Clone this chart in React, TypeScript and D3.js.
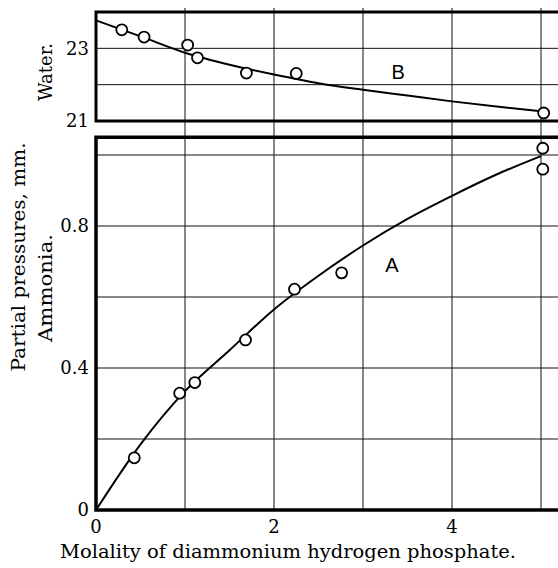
import React from 'react';
import * as d3 from 'd3';

// Smoothed curves
const molality = [0, 0.5, 1, 1.5, 2, 2.5, 3, 3.5, 4, 4.5, 5];
const ammoniaCurve = [0, 0.185, 0.335, 0.45, 0.565, 0.66, 0.745, 0.82, 0.885, 0.945, 0.997];
const waterCurve = [23.77, 23.33, 22.88, 22.55, 22.28, 22.04, 21.86, 21.7, 21.54, 21.4, 21.27];

// Observed points
const ammoniaObsX = [0.43, 0.94, 1.11, 1.68, 2.23, 2.76, 5.02, 5.02];
const ammoniaObsY = [0.147, 0.329, 0.359, 0.479, 0.622, 0.668, 1.019, 0.96];
const waterObsX = [0.29, 0.54, 1.03, 1.14, 1.69, 2.25, 5.03];
const waterObsY = [23.51, 23.31, 23.09, 22.74, 22.32, 22.31, 21.22];

// Ticks
const xGrid = [1, 2, 3, 4, 5];
const xTickLabels = [0, 2, 4];
const waterGrid = [22, 23];
const waterTickLabels = [23, 21];
const ammoniaGrid = [0.2, 0.4, 0.6, 0.8, 1.0];
const ammoniaTickLabels = [0.8, 0.4, 0];

const W = 558;
const H = 568;
const serif = "'DejaVu Serif', 'Liberation Serif', serif";
const sans = "'Liberation Sans', 'DejaVu Sans', sans-serif";

export default function App() {
  const x = d3.scaleLinear().domain([0, 5]).range([96, 541]);
  const yW = d3.scaleLinear().domain([21, 24]).range([121, 12]);
  const yA = d3.scaleLinear().domain([0, 1]).range([510, 155]);
  const right = W + 5;

  const lineW = d3
    .line<number>()
    .x((_, i) => x(molality[i]))
    .y((d) => yW(d))
    .curve(d3.curveMonotoneX);
  const lineA = d3
    .line<number>()
    .x((_, i) => x(molality[i]))
    .y((d) => yA(d))
    .curve(d3.curveMonotoneX);

  return (
    <svg
      width={W}
      height={H}
      style={{ position: 'absolute', left: 0, top: 0, background: '#fff' }}
    >
      <rect width={W} height={H} fill="#fff" />

      {/* vertical grid, running through both panels */}
      {xGrid.map((v) => (
        <line key={'vx' + v} x1={x(v)} x2={x(v)} y1={8} y2={yA(0)} stroke="#111" strokeWidth={1} />
      ))}

      {/* water panel */}
      {waterGrid.map((v) => (
        <line key={'wg' + v} x1={x(0)} x2={right} y1={yW(v)} y2={yW(v)} stroke="#111" strokeWidth={1} />
      ))}
      <path
        d={`M${right},${yW(24)} H${x(0)} V${yW(21)} H${right}`}
        fill="none"
        stroke="#000"
        strokeWidth={3}
      />
      <path d={lineW(waterCurve) ?? ''} fill="none" stroke="#000" strokeWidth={2} />
      {waterObsX.map((v, i) => (
        <circle key={'wo' + i} cx={x(v)} cy={yW(waterObsY[i])} r={5.5} fill="#fff" stroke="#000" strokeWidth={1.8} />
      ))}
      {waterTickLabels.map((v) => (
        <text key={'wt' + v} x={89} y={yW(v)} dy="0.35em" textAnchor="end" fontFamily={serif} fontSize={18}>
          {v}
        </text>
      ))}
      <text x={x(3.32)} y={yW(22.35)} dy="0.35em" fontFamily={sans} fontSize={20}>
        B
      </text>

      {/* ammonia panel */}
      {ammoniaGrid.map((v) => (
        <line key={'ag' + v} x1={x(0)} x2={right} y1={yA(v)} y2={yA(v)} stroke="#111" strokeWidth={1} />
      ))}
      <path
        d={`M${right},${yA(1.05)} H${x(0)} V${yA(0)} H${right}`}
        fill="none"
        stroke="#000"
        strokeWidth={3.5}
      />
      <path d={lineA(ammoniaCurve) ?? ''} fill="none" stroke="#000" strokeWidth={2} />
      {ammoniaObsX.map((v, i) => (
        <circle key={'ao' + i} cx={x(v)} cy={yA(ammoniaObsY[i])} r={5.5} fill="#fff" stroke="#000" strokeWidth={1.8} />
      ))}
      {ammoniaTickLabels.map((v) => (
        <text key={'at' + v} x={89} y={yA(v)} dy="0.35em" textAnchor="end" fontFamily={serif} fontSize={18}>
          {v}
        </text>
      ))}
      <text x={x(3.25)} y={yA(0.69)} dy="0.35em" fontFamily={sans} fontSize={20}>
        A
      </text>

      {/* x axis labels */}
      {xTickLabels.map((v) => (
        <text key={'xt' + v} x={x(v)} y={533} textAnchor="middle" fontFamily={serif} fontSize={18}>
          {v}
        </text>
      ))}
      <text
        x={288}
        y={558}
        textAnchor="middle"
        fontFamily={serif}
        fontSize={18}
        textLength={456}
        lengthAdjust="spacingAndGlyphs"
      >
        Molality of diammonium hydrogen phosphate.
      </text>

      {/* y axis titles */}
      <text
        transform="translate(52,72) rotate(-90)"
        textAnchor="middle"
        fontFamily={serif}
        fontSize={18}
        textLength={58}
        lengthAdjust="spacingAndGlyphs"
      >
        Water.
      </text>
      <text
        transform="translate(25,257) rotate(-90)"
        textAnchor="middle"
        fontFamily={serif}
        fontSize={18}
        textLength={229}
        lengthAdjust="spacingAndGlyphs"
      >
        Partial pressures, mm.
      </text>
      <text
        transform="translate(52,288) rotate(-90)"
        textAnchor="middle"
        fontFamily={serif}
        fontSize={18}
        textLength={108}
        lengthAdjust="spacingAndGlyphs"
      >
        Ammonia.
      </text>
    </svg>
  );
}
